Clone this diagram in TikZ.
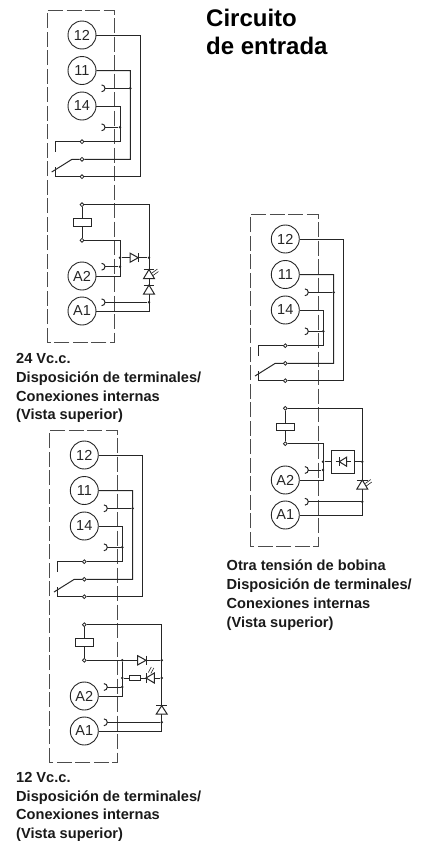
\documentclass[tikz,border=0pt]{standalone}
\usepackage{fontspec}
\usetikzlibrary{calc}
\setmainfont{Liberation Sans}
\tikzset{
  wire/.style={draw=black!85,line width=1pt},
  casebox/.style={draw=black!70,line width=1pt,dash pattern=on 15pt off 3.5pt},
  term/.style={circle,draw=black!85,line width=0.9pt,minimum size=28pt,inner sep=0pt,font=\fontsize{14.5}{14.5}\selectfont,text=black!85},
  hole/.style={circle,draw=black!85,fill=white,line width=0.8pt,minimum size=3.8pt,inner sep=0pt},
  dotn/.style={circle,fill=black!85,minimum size=2.8pt,inner sep=0pt},
  coil/.style={rectangle,draw=black!85,fill=white,line width=0.9pt,minimum width=18pt,minimum height=7.5pt,inner sep=0pt},
  res/.style={rectangle,draw=black!85,fill=white,line width=0.8pt,minimum width=10.5pt,minimum height=4.5pt,inner sep=0pt},
  caption/.style={anchor=north west,align=left,inner sep=0pt,font=\fontsize{14.6}{18.7}\selectfont\bfseries,text=black!90},
  heading/.style={anchor=north west,align=left,inner sep=0pt,font=\fontsize{24}{28.3}\selectfont\bfseries}
}
% socket #1 at coordinate, opens to the left
\newcommand{\socketmark}[1]{\draw[wire] (#1) arc[start angle=0,end angle=90,radius=3.4pt] (#1) arc[start angle=0,end angle=-90,radius=3.4pt];}
% triangles: #1 base-centre name, apex direction given as #2 (dx,dy of apex), half width #3
\newcommand{\tri}[3]{\draw[wire,fill=white] ($(#1)+#2$) -- ($(#1)+#3$) -- ($(#1)-#3$) -- cycle;}
% upper contact block and common lower coil parts. #1 prefix
\newcommand{\contacts}[1]{
  \draw[casebox] (47,342.7) -- (47,10.7) -- (114.7,10.7) -- (114.7,342.7) -- cycle;
  \node[term] (#1t12) at (82,35) {12};
  \node[term] (#1t11) at (82,70.5) {11};
  \node[term] (#1t14) at (82,106) {14};
  \node[term] (#1tA2) at (82,276) {A2};
  \node[term] (#1tA1) at (82,311) {A1};
  \node[hole] (#1c14) at (82,141.7) {};
  \node[hole] (#1c11) at (82,159.3) {};
  \node[hole] (#1c12) at (82,176.7) {};
  \coordinate (#1r12) at (140.3,35);
  \coordinate (#1r11) at (130.3,70.5);
  \coordinate (#1r14) at (120,106);
  \coordinate (#1end14) at (55,152);
  \coordinate (#1end12) at (55,167);
  \coordinate (#1sw) at (72,159.3);
  \coordinate (#1swe) at (51.7,172);
  \draw[wire] (#1t12) -- (#1r12) |- (#1c12) (#1c12) -| (#1end12);
  \draw[wire] (#1t11) -- (#1r11) |- (#1c11) (#1c11) -- (#1sw) -- (#1swe);
  \draw[wire] (#1t14) -- (#1r14) |- (#1c14) (#1c14) -| (#1end14);
  \coordinate (#1s11) at (105,88.3);
  \node[dotn] (#1d11) at (130.3,88.3) {};
  \coordinate (#1s14) at (105,127.3);
  \node[dotn] (#1d14) at (120,127.3) {};
  \socketmark{#1s11} \socketmark{#1s14}
  \draw[wire] (#1s11) -- (#1d11);
  \draw[wire] (#1s14) -- (#1d14);
}
\begin{document}
\begin{tikzpicture}[x=1pt,y=-1pt]
\useasboundingbox (0,0) rectangle (422,841);

\node[heading] (title) at (206,9) {Circuito\\de entrada};

% ---------- 24 V
\begin{scope}
\contacts{a}
\node[hole] (atop) at (82,204.7) {};
\node[hole] (abot) at (82,240.3) {};
\node[coil] (acoil) at (82,222.5) {};
\draw[wire] (atop) -- (acoil) -- (abot);
\coordinate (ar) at (149,204.7);
\coordinate (al) at (120,240.3);
\draw[wire] (atop) -- (ar) |- (atA1);
\draw[wire] (abot) -- (al) |- (atA2);
\node[dotn] (aj1) at (120,257.7) {};
\node[dotn] (aj2) at (149,257.7) {};
\draw[wire] (aj1) -- (aj2);
\coordinate (asA2) at (105,266.7);
\node[dotn] (adA2) at (120,266.7) {};
\socketmark{asA2}
\draw[wire] (asA2) -- (adA2);
\coordinate (asA1) at (105,302.3);
\node[dotn] (adA1) at (149,302.3) {};
\socketmark{asA1}
\draw[wire] (asA1) -- (adA1);
\coordinate (ad1) at (130,257.7);
\tri{ad1}{(8.3,0)}{(0,4.6)}
\draw[wire] (138.3,253.1) -- (138.3,262.3);
\coordinate (ad2) at (149,278.5);
\tri{ad2}{(0,-9)}{(5.4,0)}
\draw[wire] (143.6,269.5) -- (154.4,269.5);
\draw[wire,line width=0.6pt] (152,273) -- (157.5,269) (153,275.5) -- (158.5,271.5);
\coordinate (ad3) at (149,294);
\tri{ad3}{(0,-9)}{(5.4,0)}
\draw[wire] (143.6,285) -- (154.4,285);
\end{scope}
\node[caption] (cap1) at (16,353.3) {24 Vc.c.\\Disposición de terminales/\\Conexiones internas\\(Vista superior)};

% ---------- 12 V
\begin{scope}[shift={(2.3pt,-420pt)}]
\contacts{b}
\node[hole] (btop) at (82,204.7) {};
\node[hole] (bbot) at (82,240.3) {};
\node[coil] (bcoil) at (82,222.5) {};
\draw[wire] (btop) -- (bcoil) -- (bbot);
\coordinate (br) at (159.4,204.7);
\node[dotn] (bj1) at (120,240.3) {};
\node[dotn] (bj2) at (159.4,240.3) {};
\draw[wire] (btop) -- (br) |- (btA1);
\draw[wire] (bbot) -- (bj2);
\draw[wire] (bj1) |- (btA2);
\node[dotn] (bj3) at (120,258) {};
\node[dotn] (bj4) at (159.4,258) {};
\draw[wire] (bj3) -- (bj4);
\node[res] (bres) at (132.4,258) {};
\coordinate (bsA2) at (105,267);
\node[dotn] (bdA2) at (120,267) {};
\socketmark{bsA2}
\draw[wire] (bsA2) -- (bdA2);
\coordinate (bsA1) at (105,302.3);
\node[dotn] (bdA1) at (159.4,302.3) {};
\socketmark{bsA1}
\draw[wire] (bsA1) -- (bdA1);
\coordinate (bd1) at (135.4,240.3);
\tri{bd1}{(8.3,0)}{(0,4.6)}
\draw[wire] (143.7,235.7) -- (143.7,244.9);
\coordinate (bd2) at (152,258);
\tri{bd2}{(-8.3,0)}{(0,5)}
\draw[wire] (143.7,253) -- (143.7,263);
\draw[wire,line width=0.6pt] (146,252.5) -- (149,247) (148.5,253.5) -- (151.5,248);
\coordinate (bd3) at (159.4,294);
\tri{bd3}{(0,-8.3)}{(5.4,0)}
\draw[wire] (154,285.7) -- (164.8,285.7);
\end{scope}
\node[caption] (cap2) at (16,772) {12 Vc.c.\\Disposición de terminales/\\Conexiones internas\\(Vista superior)};

% ---------- other voltage
\begin{scope}[shift={(203.3pt,-204pt)}]
\contacts{c}
\node[hole] (ctop) at (82,204.3) {};
\node[hole] (cbot) at (82,239.7) {};
\node[coil] (ccoil) at (82,222.8) {};
\draw[wire] (ctop) -- (ccoil) -- (cbot);
\coordinate (cr) at (159,204.3);
\coordinate (cl) at (119.7,239.7);
\draw[wire] (ctop) -- (cr) |- (ctA1);
\draw[wire] (cbot) -- (cl) |- (ctA2);
\node[dotn] (cj1) at (119.7,257.7) {};
\node[dotn] (cj2) at (159,257.7) {};
\node[draw=black!85,line width=0.9pt,minimum width=22.7pt,minimum height=23.3pt,inner sep=0pt] (cbox) at (139.4,257.7) {};
\draw[wire] (cj1) -- (cbox) -- (cj2);
\draw[wire] (132.4,257.7) -- (147.4,257.7);
\coordinate (csA2) at (105,266);
\node[dotn] (cdA2) at (119.7,266) {};
\socketmark{csA2}
\draw[wire] (csA2) -- (cdA2);
\coordinate (csA1) at (105,297.7);
\node[dotn] (cdA1) at (159,297.7) {};
\socketmark{csA1}
\draw[wire] (csA1) -- (cdA1);
\coordinate (cd1) at (143.4,257.7);
\tri{cd1}{(-7.4,0)}{(0,4.6)}
\draw[wire] (136,253.1) -- (136,262.3);
\coordinate (cd2) at (159,285);
\tri{cd2}{(0,-9)}{(5.4,0)}
\draw[wire] (153.6,276) -- (164.4,276);
\draw[wire,line width=0.6pt] (162,279.5) -- (167.5,275.5) (163,282) -- (168.5,278);
\end{scope}
\node[caption] (cap3) at (226.5,560) {Otra tensión de bobina\\Disposición de terminales/\\Conexiones internas\\(Vista superior)};
\end{tikzpicture}
\end{document}
